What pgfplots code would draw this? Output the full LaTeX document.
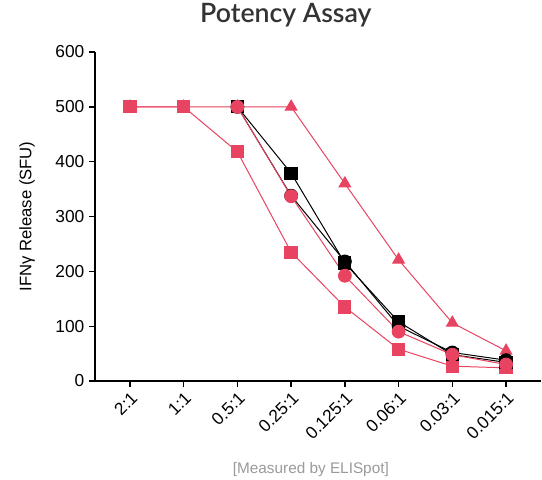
\documentclass[border=0pt]{standalone}
\usepackage{pgfplots}
\pgfplotsset{compat=1.18}
\usepackage{fontspec}
\setmainfont{Liberation Sans}
\newfontfamily\titlefont{Lato Semibold}
\definecolor{cred}{HTML}{E84461}
\definecolor{cgray}{HTML}{9A9A9A}
\definecolor{ctitle}{HTML}{333333}
\begin{document}
\begin{tikzpicture}
\begin{axis}[
  width=334.5pt, height=246.75pt, scale only axis,
  xmin=-0.65, xmax=7.65, ymin=0, ymax=600,
  axis x line*=bottom, axis y line*=left,
  axis line style={line width=1.1pt},
  tick align=outside, major tick length=4.5pt,
  tick style={black, line width=1pt},
  xtick={0,...,7},
  xticklabels={2:1,1:1,0.5:1,0.25:1,0.125:1,0.06:1,0.03:1,0.015:1},
  ytick={0,100,...,600},
  /pgf/number format/assume math mode=true,
  tick label style={font=\fontsize{13}{15}\selectfont},
  x tick label style={rotate=45, anchor=north east, inner sep=2pt},
  title={Potency Assay},
  title style={at={(axis description cs:0.428,1)}, anchor=base, yshift=16.5pt,
    font=\fontsize{20}{22}\selectfont\titlefont, text=ctitle},
  xlabel={[Measured by ELISpot]},
  xlabel style={at={(axis description cs:0.484,0)}, anchor=base, yshift=-69pt,
    font=\fontsize{11.5}{13}\selectfont, text=cgray},
  ylabel={IFNγ Release (SFU)},
  ylabel style={at={(axis description cs:-0.1525,0.5)}, anchor=center,
    font=\fontsize{12.5}{14}\selectfont},
  clip=false,
]
\coordinate (bl) at (rel axis cs:0,0);
\addplot[cred, line width=0.75pt, mark=triangle*, mark size=5pt] coordinates {
  (0,500) (1,500) (2,500) (3,500) (4,360) (5,221) (6,106) (7,55)};
\addplot[cred, line width=0.75pt, mark=square*, mark size=4.6pt] coordinates {
  (0,500) (1,500) (2,418) (3,235) (4,135) (5,58) (6,27) (7,24)};
\addplot[black, line width=0.75pt, mark=square*, mark size=4.6pt] coordinates {
  (2,500) (3,379) (4,215) (5,108) (6,48) (7,34)};
\addplot[black, line width=0.75pt, mark=*, mark size=4.8pt] coordinates {
  (2,500) (3,338) (4,218) (5,100) (6,52) (7,38)};
\addplot[cred, line width=0.75pt, mark=*, mark size=4.8pt] coordinates {
  (2,500) (3,337) (4,192) (5,90) (6,48) (7,30)};
\end{axis}
\pgfresetboundingbox
\path[use as bounding box] ([shift={(-71.25pt,-73.5pt)}]bl) rectangle ([shift={(335.25pt,285.75pt)}]bl);
\end{tikzpicture}
\end{document}
